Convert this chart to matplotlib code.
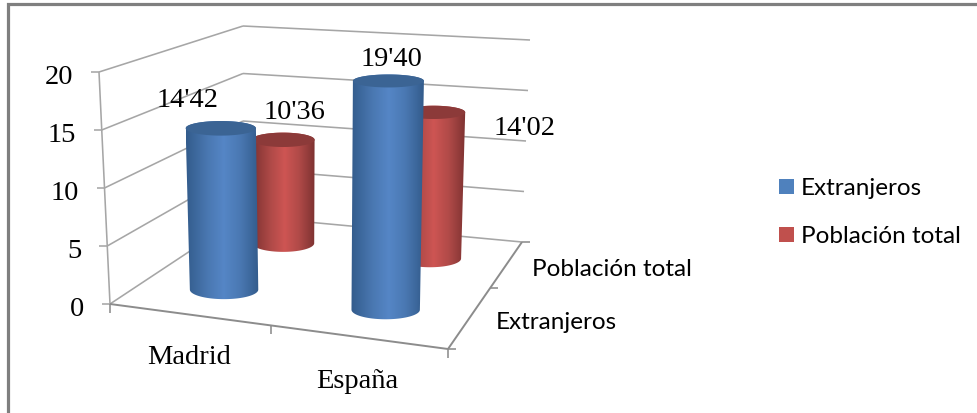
import numpy as np
import matplotlib
matplotlib.use("Agg")
import matplotlib.pyplot as plt
from matplotlib.colors import LinearSegmentedColormap
from matplotlib.patches import Polygon, Rectangle

# ---- data ----
categories = ["Madrid", "España"]
series_names = ["Extranjeros", "Población total"]
extranjeros = [14.42, 19.40]
poblacion = [10.36, 14.02]
labels_ext = ["14'42", "19'40"]
labels_pob = ["10'36", "14'02"]
z_ticks = [0, 5, 10, 15, 20]

# ---- style / layout ----
W, H = 978, 414
SERIF = "Liberation Serif"
SANS = "Lato"
SERIF_SIZE = 20.5
SANS_SIZE = 17.5
GRID = "#A6A6A6"
AXIS = "#8C8C8C"
# chart box corners in figure pixels, (category, series, height) order
corner = {
    (0, 0, 0): (110, 305), (1, 0, 0): (448, 350), (1, 1, 0): (522, 243), (0, 1, 0): (243, 217),
    (0, 0, 1): (99, 73), (1, 0, 1): (454, 92), (1, 1, 1): (530, 41), (0, 1, 1): (243, 27),
}
ZMAX = 20.0
NCAT, NSER = 2.0, 2.0
RADIUS = 0.21
BASE_LIFT = 2.5
CAT_TICKS = [0, 0.952, 2]   # perspective places the middle boundaries off-centre
SER_TICKS = [0, 1.14, 2]


def proj(c, s, z):
    u, v, w = c / NCAT, s / NSER, z / ZMAX
    p = np.zeros(2)
    for (a, b, d), xy in corner.items():
        p += (u if a else 1 - u) * (v if b else 1 - v) * (w if d else 1 - w) * np.array(xy, float)
    return p


fig = plt.figure(figsize=(W / 100, H / 100), dpi=100)
ax = fig.add_axes([0, 0, 1, 1])
ax.set_xlim(0, W)
ax.set_ylim(H, 0)
ax.axis("off")

# frame
ax.plot([8, 8, W + 2], [H + 2, 5, 5], color="#7F7F7F", lw=2.3, solid_joinstyle="miter", zorder=1)


def line(c0, c1, color=GRID, lw=1.15, z=2):
    ax.plot([c0[0], c1[0]], [c0[1], c1[1]], color=color, lw=lw, zorder=z, solid_capstyle="butt")


# gridlines on walls
for t in z_ticks:
    line(proj(0, 0, t), proj(0, NSER, t))
    line(proj(0, NSER, t), proj(NCAT, NSER, t))
# verticals / floor
line(proj(0, 0, 0), proj(0, 0, ZMAX))
line(proj(0, 0, 0), proj(NCAT, 0, 0), AXIS, 1.4)
line(proj(NCAT, 0, 0), proj(NCAT, NSER, 0), AXIS, 1.4)
# ticks
for t in z_ticks:
    p = proj(0, 0, t)
    line(p, p + [-8, 0])
    ax.text(p[0] - 25.5, p[1] + 4.5, str(t), ha="right", va="center", family=SERIF, fontsize=SERIF_SIZE, color="black")
for c in CAT_TICKS:
    p = proj(c, 0, 0)
    line(p, p + [0, 9], AXIS)
for s in SER_TICKS:
    p = proj(NCAT, s, 0)
    line(p, p + [8, 0], AXIS)

# axis labels
for name, xy in zip(categories, [(189, 358), (357, 382)]):
    ax.text(*xy, name, ha="center", va="center", family=SERIF, fontsize=SERIF_SIZE, color="black")
for name, xy in zip(series_names, [(556, 322.5), (612, 269.5)]):
    ax.text(*xy, name, ha="center", va="center", family=SANS, fontsize=SANS_SIZE, color="black")


def shade_map(edge, mid, light):
    return LinearSegmentedColormap.from_list("c", [(0, edge), (0.3, mid), (0.52, light), (0.75, mid), (1, edge)])


blue_map = shade_map("#335C8C", "#4A78B2", "#5586C6")
red_map = shade_map("#7E3231", "#B04A48", "#CE5553")
strip = np.linspace(0, 1, 128)[None, :]


def cylinder(c, s, value, cmap, top_col, zo):
    base = proj(c, s, 0) - [0, BASE_LIFT]
    top = proj(c, s, value)

    def half(z):
        d = proj(c + 0.5, s, z) - proj(c - 0.5, s, z)
        return RADIUS * np.hypot(*d)

    a0, a1 = half(0), half(value)
    b0, b1 = a0 * 0.28, a1 * (0.28 - 0.005 * value)
    t = np.linspace(0, np.pi, 60)
    front_base = np.c_[base[0] + a0 * np.cos(t), base[1] + b0 * np.sin(t)]
    back_top = np.c_[top[0] - a1 * np.cos(t), top[1] - b1 * np.sin(t)]
    body = Polygon(np.r_[front_base, back_top], closed=True, facecolor="none", edgecolor="none")
    ax.add_patch(body)
    xl, xr = min(top[0] - a1, base[0] - a0), max(top[0] + a1, base[0] + a0)
    im = ax.imshow(strip, extent=[xl, xr, base[1] + b0 + 1, top[1] - b1 - 1], cmap=cmap, aspect="auto",
                   zorder=zo, interpolation="bilinear", vmin=0, vmax=1)
    im.set_clip_path(body)
    tt = np.linspace(0, 2 * np.pi, 90)
    ax.add_patch(Polygon(np.c_[top[0] + a1 * np.cos(tt), top[1] + b1 * np.sin(tt)],
                         closed=True, facecolor=top_col, edgecolor="none", zorder=zo + 0.1))


# back row first
cylinder(0.5, 1.5, poblacion[0], red_map, "#8C3A39", 3)
cylinder(1.5, 1.5, poblacion[1], red_map, "#8C3A39", 4)
cylinder(0.5, 0.5, extranjeros[0], blue_map, "#3B6494", 5)
cylinder(1.5, 0.5, extranjeros[1], blue_map, "#3B6494", 6)

# data labels
for txt, xy in zip(labels_ext + labels_pob, [(187.5, 101), (391, 59), (294, 113), (525, 129)]):
    ax.text(*xy, txt, ha="center", va="center", family=SERIF, fontsize=SERIF_SIZE, color="black", zorder=10)

# legend
for name, col, y in zip(series_names, ["#4F81BD", "#C0504D"], [187.5, 235.5]):
    ax.add_patch(Rectangle((779, y - 7.5), 15, 15, facecolor=col, edgecolor="none", zorder=3))
    ax.text(801, y + 1.5, name, ha="left", va="center", family=SANS, fontsize=SANS_SIZE, color="black")

ax.set_xlim(0, W)
ax.set_ylim(H, 0)
fig.savefig("out.png", dpi=100, facecolor="white")
